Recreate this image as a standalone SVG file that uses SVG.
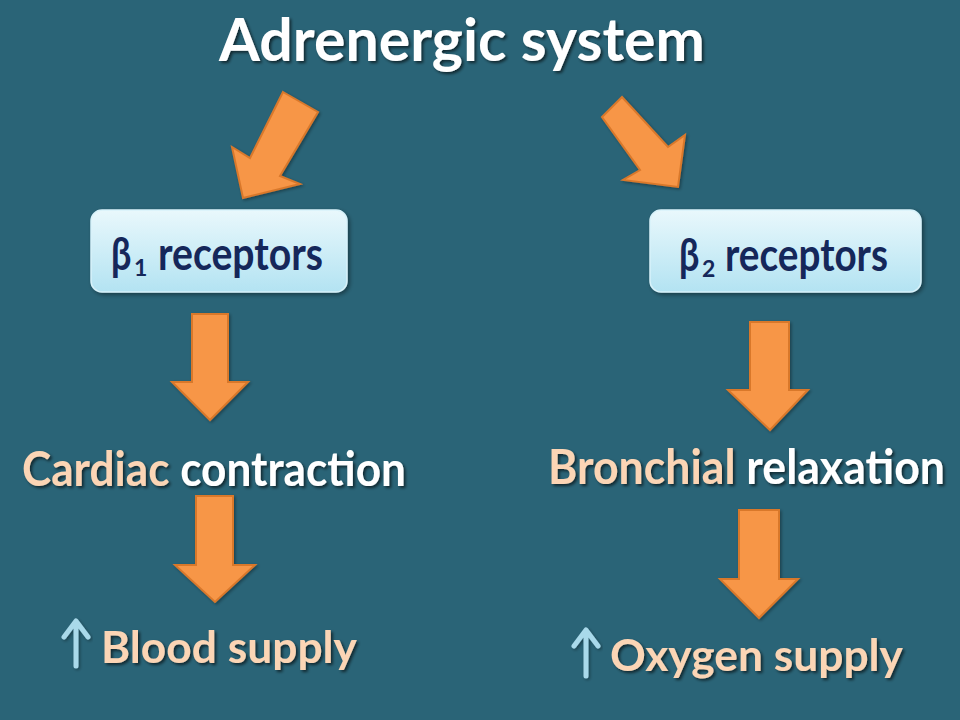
<svg xmlns="http://www.w3.org/2000/svg" width="960" height="720" viewBox="0 0 960 720">
  <defs>
    <style>
      .t { font-family: Lato, "Open Sans", "Liberation Sans", sans-serif; font-weight: bold; filter: url(#tsh); }
      .w { fill: #ffffff; }
      .p { fill: #fbd5b5; }
      .r { font-family: Lato, "Open Sans", "Liberation Sans", sans-serif; font-weight: bold; fill: #15275a; }
      .arr { fill: #f79646; stroke: #d9782c; stroke-width: 2; stroke-linejoin: miter; filter: url(#ash); }
      .up { fill: none; stroke: #a9d9ea; stroke-width: 5; stroke-linecap: round; stroke-linejoin: round; filter: url(#ash); }
      .box { fill: url(#boxg); stroke: #d8f2fa; stroke-width: 1.5; filter: url(#bsh); }
    </style>
    <linearGradient id="boxg" x1="0" y1="0" x2="0" y2="1">
      <stop offset="0" stop-color="#e9f8fc"/>
      <stop offset="1" stop-color="#b3e3f2"/>
    </linearGradient>
    <filter id="tsh" x="-10%" y="-30%" width="120%" height="160%">
      <feDropShadow dx="2" dy="2" stdDeviation="1.5" flood-color="#000" flood-opacity="0.6"/>
    </filter>
    <filter id="ash" x="-20%" y="-20%" width="140%" height="140%">
      <feDropShadow dx="1.5" dy="1.5" stdDeviation="1.5" flood-color="#000" flood-opacity="0.35"/>
    </filter>
    <filter id="bsh" x="-10%" y="-20%" width="120%" height="140%">
      <feDropShadow dx="2" dy="2" stdDeviation="2" flood-color="#000" flood-opacity="0.4"/>
    </filter>
  </defs>

  <rect width="960" height="720" fill="#2a6477"/>

  <g id="title">
    <text class="t w" x="219" y="61" font-size="60" textLength="486" lengthAdjust="spacingAndGlyphs">Adrenergic system</text>
  </g>

  <g id="connectors">
    <polygon class="arr" points="283,92 318,112 280,176 300,184 243,198 232,147 250,158"/>
    <polygon class="arr" points="602,117 622,97 668,147 685,135 678,187 623,180 640,170"/>
    <polygon class="arr" points="192,314 228,314 228,382 248,382 210,420 172,382 192,382"/>
    <polygon class="arr" points="750,322 789,322 789,390 808,390 770,430 728,390 750,390"/>
    <polygon class="arr" points="196,496 233,496 233,565 255,565 215,602 175,565 196,565"/>
    <polygon class="arr" points="739,510 779,510 779,579 798,579 759,618 720,579 739,579"/>
  </g>

  <g id="beta1">
    <rect class="box" x="91" y="210" width="256" height="82" rx="11"/>
    <text class="r" transform="translate(111,270) scale(0.78,1)" font-size="46">β</text>
    <text class="r" x="134" y="276" font-size="23">1</text>
    <text class="r" x="158" y="270" font-size="46" textLength="165" lengthAdjust="spacingAndGlyphs">receptors</text>
  </g>

  <g id="beta2">
    <rect class="box" x="650" y="210" width="271" height="82" rx="11"/>
    <text class="r" transform="translate(679,271) scale(0.78,1)" font-size="46">β</text>
    <text class="r" x="702" y="277" font-size="23">2</text>
    <text class="r" x="725" y="271" font-size="46" textLength="163" lengthAdjust="spacingAndGlyphs">receptors</text>
  </g>

  <g id="cardiac">
    <text class="t" x="22" y="486" font-size="48" textLength="384" lengthAdjust="spacingAndGlyphs"><tspan class="p">Cardiac</tspan><tspan class="w"> contraction</tspan></text>
  </g>

  <g id="bronchial">
    <text class="t" x="548" y="484" font-size="48" textLength="397" lengthAdjust="spacingAndGlyphs"><tspan class="p">Bronchial</tspan><tspan class="w"> relaxation</tspan></text>
  </g>

  <g id="blood">
    <path class="up" d="M64,637 L76,621 L88,637 M76,622 V666"/>
    <text class="t p" x="101" y="663" font-size="44" textLength="256" lengthAdjust="spacingAndGlyphs">Blood supply</text>
  </g>

  <g id="oxygen">
    <path class="up" d="M574,646 L586,630 L598,646 M586,631 V676"/>
    <text class="t p" x="610" y="671" font-size="44" textLength="293" lengthAdjust="spacingAndGlyphs">Oxygen supply</text>
  </g>
</svg>
